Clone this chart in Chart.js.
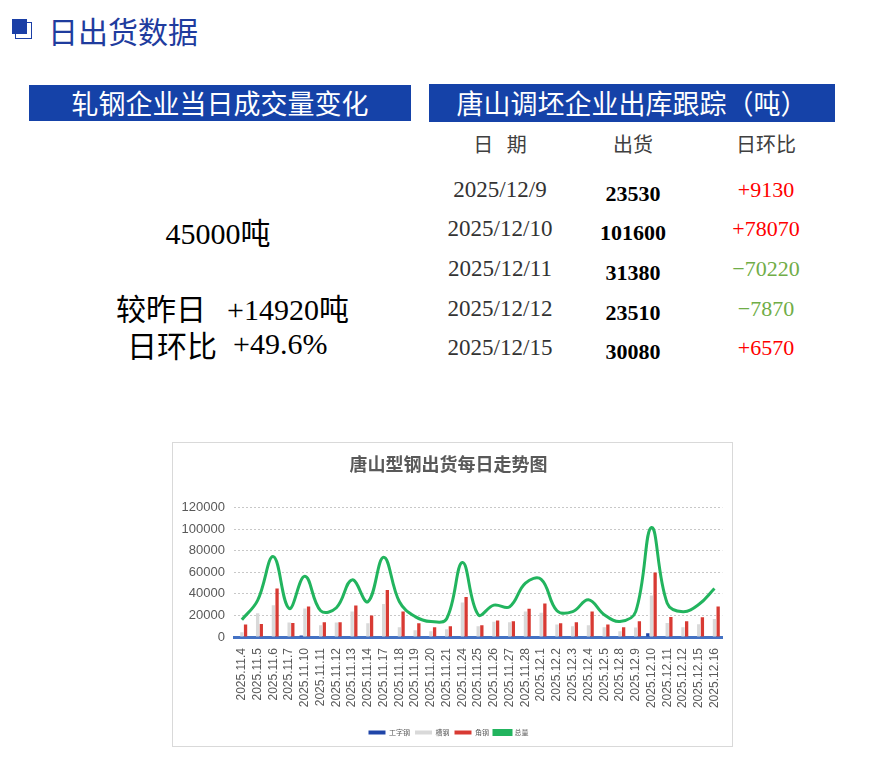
<!DOCTYPE html>
<html>
<head>
<meta charset="utf-8">
<title>日出货数据</title>
<script src="https://cdn.jsdelivr.net/npm/chart.js@4.4.1/dist/chart.umd.min.js"></script>
<style>
    html, body { margin: 0; padding: 0; background: #fff; }
    body { width: 869px; height: 765px; position: relative; overflow: hidden;
           font-family: "Liberation Serif", "Noto Sans CJK SC", serif; }
    .abs { position: absolute; white-space: nowrap; }
    .c { transform: translate(-50%, -50%); }
    .l { transform: translate(0, -50%); }
    .icon-fill { position: absolute; left: 12px; top: 19px; width: 15px; height: 15px; background: #1b3fa6; }
    .icon-line { position: absolute; left: 15px; top: 22px; width: 15px; height: 15px; border: 1px solid #1b3fa6; }
    .banner { position: absolute; background: #1542a8; color: #fff; text-align: center;
              font-family: "Noto Sans CJK SC", sans-serif; font-size: 27px; }
    .hdr { font-family: "Noto Sans CJK SC", sans-serif; font-size: 20px; color: #404040; }
    .date { font-size: 23px; color: #333; }
    .ship { font-size: 22px; color: #000; font-weight: bold; }
    .chg { font-size: 22px; }
    .up { color: #ff0000; }
    .down { color: #70ad47; }
    .big { font-size: 30px; color: #000; }
    #chartBox { position: absolute; left: 172px; top: 442px; width: 559px; height: 303px; border: 1px solid #d9d9d9; }
</style>
</head>
<body>
<div class="icon-line"></div>
<div class="icon-fill"></div>
<div class="abs l" style="left:48px; top:30px; font-family:'Noto Sans CJK SC',sans-serif; font-size:30px; color:#1f3c9e;">日出货数据</div>

<div class="banner" style="left:29px; top:85px; width:382px; height:36px; line-height:36px;">轧钢企业当日成交量变化</div>
<div class="banner" style="left:429px; top:84px; width:406px; height:38px; line-height:38px;">唐山调坯企业出库跟踪（吨）</div>

<div id="summary"></div>
<div id="table"></div>

<div id="chartBox"><canvas id="trendChart"></canvas></div>

<script>
// ---- left summary ----
var todayTotal = '45000吨';
var vsYesterday = '+14920吨';
var dayRatio = '+49.6%';

// ---- 唐山调坯企业出库跟踪 ----
var tableHeaders = ['日\u00a0\u00a0\u00a0期', '出货', '日环比'];
var tableDates = ['2025/12/9', '2025/12/10', '2025/12/11', '2025/12/12', '2025/12/15'];
var tableShip = ['23530', '101600', '31380', '23510', '30080'];
var tableChange = ['+9130', '+78070', '-70220', '-7870', '+6570'];

// ---- 唐山型钢出货每日走势图 ----
var categories = ['2025.11.4', '2025.11.5', '2025.11.6', '2025.11.7', '2025.11.10', '2025.11.11',
    '2025.11.12', '2025.11.13', '2025.11.14', '2025.11.17', '2025.11.18', '2025.11.19',
    '2025.11.20', '2025.11.21', '2025.11.24', '2025.11.25', '2025.11.26', '2025.11.27',
    '2025.11.28', '2025.12.1', '2025.12.2', '2025.12.3', '2025.12.4', '2025.12.5',
    '2025.12.8', '2025.12.9', '2025.12.10', '2025.12.11', '2025.12.12', '2025.12.15', '2025.12.16'];
var iBeam = [0, 0, 0, 0, 1500, 0, 0, 0, 0, 0, 0, 0, 0, 0, 0, 0, 0, 0, 0, 0, 0, 0, 0, 0, 0, 0, 3400, 0, 0, 0, 0];
var channel = [4300, 22000, 29500, 13500, 26500, 10800, 13500, 23700, 12700, 30500, 9000, 6200, 5300, 7100,
    32000, 9900, 14200, 13600, 23700, 22500, 11700, 9900, 10800, 9000, 5300, 8900, 38500, 12900, 9000, 11800, 16800];
var angle = [11700, 12000, 45000, 13000, 28300, 13600, 13600, 29300, 20000, 43500, 23700, 12700, 9000, 9900,
    37000, 10800, 15400, 14500, 26300, 31000, 12700, 13600, 23700, 11700, 9100, 14630, 59700, 18480, 14510, 18280, 28200];
var total = [16000, 34000, 74500, 26500, 56300, 24400, 27100, 53000, 32700, 74000, 32700, 18900, 14300, 17000,
    69000, 20700, 29600, 28100, 50000, 53500, 24400, 23500, 34500, 20700, 14400, 23530, 101600, 31380, 23510, 30080, 45000];
var yTicks = [0, 20000, 40000, 60000, 80000, 100000, 120000];

(function() {
    'use strict';

    function put(parent, text, cls, x, y, extra) {
        var d = document.createElement('div');
        d.className = 'abs ' + cls;
        d.style.left = x + 'px';
        d.style.top = y + 'px';
        if (extra) d.style.cssText += extra;
        d.textContent = text;
        parent.appendChild(d);
        return d;
    }

    // ==========================================
    // SUMMARY (left)
    // ==========================================
    function initSummary() {
        var box = document.getElementById('summary');
        put(box, todayTotal, 'c big', 218, 231);
        put(box, '较昨日', 'l big', 116, 307, 'font-family:"Noto Sans CJK SC",sans-serif;');
        put(box, vsYesterday, 'l big up', 227, 307);
        put(box, '日环比', 'l big', 127, 344, 'font-family:"Noto Sans CJK SC",sans-serif;');
        put(box, dayRatio, 'l big up', 233, 344);
    }

    // ==========================================
    // TABLE (right)
    // ==========================================
    function initTable() {
        var box = document.getElementById('table');
        var cols = [500, 633, 766];
        var rowY = [190, 229, 269, 309, 348];
        tableHeaders.forEach(function(h, i) { put(box, h, 'c hdr', cols[i], 143); });
        tableDates.forEach(function(d, i) {
            put(box, d, 'c date', cols[0], rowY[i]);
            put(box, tableShip[i], 'c ship', cols[1], rowY[i] + 4);
            var chg = tableChange[i];
            var txt = chg.charAt(0) === '-' ? '\u2212' + chg.slice(1) : chg;
            put(box, txt, 'c chg ' + (chg.charAt(0) === '-' ? 'down' : 'up'), cols[2], rowY[i]);
        });
    }

    // ==========================================
    // TREND CHART (Chart.js)
    // ==========================================
    function initChart() {
        var ctx = document.getElementById('trendChart').getContext('2d');
        var tickFont = { family: 'Liberation Sans, Arial, sans-serif', size: 12 };

        new Chart(ctx, {
            data: {
                labels: categories,
                datasets: [
                    { type: 'line', label: '总量', data: total, borderColor: '#22b45e', backgroundColor: '#22b45e',
                      borderWidth: 3, pointRadius: 0, tension: 0.4, order: 0 },
                    { type: 'bar', label: '工字钢', data: iBeam, backgroundColor: '#1f45a8', order: 1,
                      categoryPercentage: 0.7, barPercentage: 0.9 },
                    { type: 'bar', label: '槽钢', data: channel, backgroundColor: '#d9d9d9', order: 1,
                      categoryPercentage: 0.7, barPercentage: 0.9 },
                    { type: 'bar', label: '角钢', data: angle, backgroundColor: '#d83a33', order: 1,
                      categoryPercentage: 0.7, barPercentage: 0.9 }
                ]
            },
            options: {
                responsive: true,
                maintainAspectRatio: false,
                animation: false,
                layout: { padding: { left: 0, right: 8, top: 0, bottom: 0 } },
                plugins: {
                    title: {
                        display: true,
                        text: '唐山型钢出货每日走势图',
                        color: '#595959',
                        font: { family: 'Noto Sans CJK SC', size: 18, weight: 'bold' },
                        padding: { top: 10, bottom: 33 }
                    },
                    legend: {
                        position: 'bottom',
                        labels: {
                            boxWidth: 17, boxHeight: 4, padding: 5, color: '#595959',
                            font: { family: 'Noto Sans CJK SC', size: 7 },
                            sort: function(a, b) {
                                var o = ['工字钢', '槽钢', '角钢', '总量'];
                                return o.indexOf(a.text) - o.indexOf(b.text);
                            }
                        }
                    },
                    tooltip: { enabled: false }
                },
                scales: {
                    x: {
                        grid: { display: false },
                        border: { color: '#4472c4', width: 3 },
                        ticks: { color: '#595959', font: tickFont, minRotation: 90, maxRotation: 90, autoSkip: false, padding: 3 },
                        afterFit: function(s) { s.height = 87; }
                    },
                    y: {
                        min: 0, max: 120000,
                        afterBuildTicks: function(s) { s.ticks = yTicks.map(function(v) { return { value: v }; }); },
                        grid: { color: '#c8c8c8', drawTicks: false },
                        border: { display: false, dash: [2, 2] },
                        ticks: { color: '#595959', font: { family: 'Liberation Sans, Arial, sans-serif', size: 13 },
                                 padding: 9, callback: function(v) { return String(v); } },
                        afterFit: function(s) { s.width = 61; }
                    }
                }
            }
        });
    }

    initSummary();
    initTable();
    initChart();
})();
</script>
</body>
</html>
